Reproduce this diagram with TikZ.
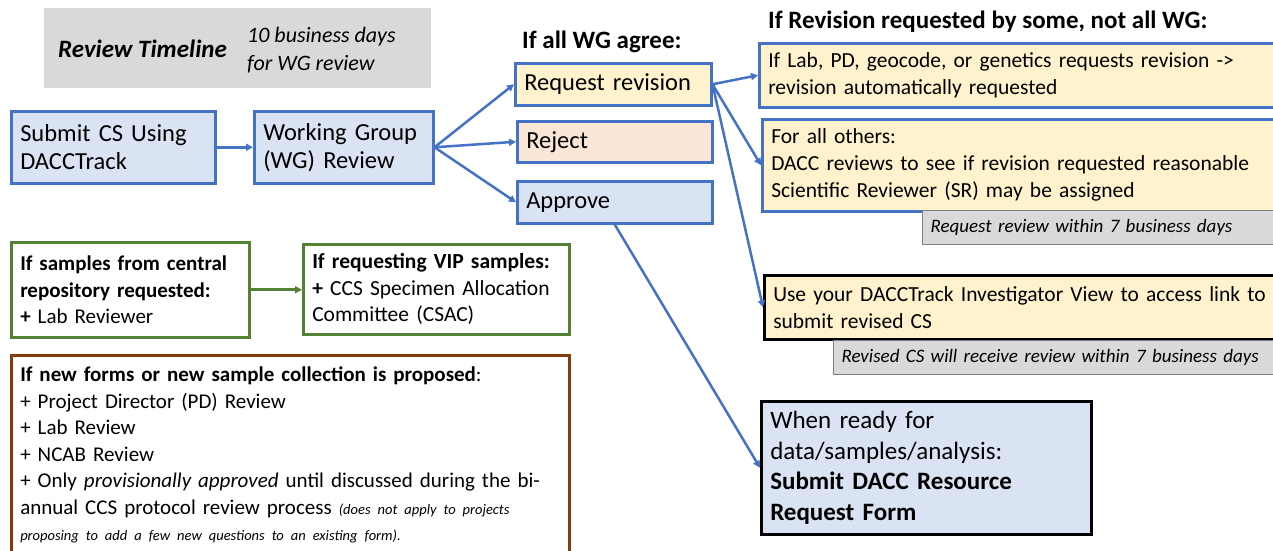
\documentclass[tikz,border=0pt]{standalone}
\usepackage{fontspec}
\setmainfont{Carlito}
\usetikzlibrary{arrows.meta}
\definecolor{bblue}{HTML}{4472C4}
\definecolor{lblue}{HTML}{DAE3F3}
\definecolor{lyellow}{HTML}{FFF2CC}
\definecolor{lpeach}{HTML}{FBE5D6}
\definecolor{tgray}{HTML}{D9D9D9}
\definecolor{dgray}{HTML}{7F7F7F}
\definecolor{ggreen}{HTML}{548235}
\definecolor{bbrown}{HTML}{843C0C}
\tikzset{
  base/.style={anchor=north west, inner xsep=9pt, inner ysep=0pt, align=left, line width=2.5pt},
  bluebox/.style={base, draw=bblue, fill=lblue},
  yelbox/.style={base, draw=bblue, fill=lyellow},
  blackyel/.style={base, draw=black, fill=lyellow},
  blackblue/.style={base, draw=black, fill=lblue},
  peachbox/.style={base, draw=bblue, fill=lpeach},
  notebox/.style={base, draw=dgray, fill=tgray, line width=1pt, inner xsep=8pt},
  greenbox/.style={base, draw=ggreen, fill=white},
  brownbox/.style={base, draw=bbrown, fill=white},
  big/.style={font=\fontsize{24.5}{28}\selectfont},
  mid/.style={font=\fontsize{21.5}{27}\selectfont},
  small/.style={font=\fontsize{21}{26.5}\selectfont},
  note/.style={font=\fontsize{19}{22}\selectfont\itshape},
  barrow/.style={draw=bblue, line width=2.5pt, -{Triangle[length=7pt,width=7pt]}},
  garrow/.style={draw=ggreen, line width=3pt, -{Triangle[length=7pt,width=7pt]}},
  title/.style={anchor=west, inner sep=0pt, font=\fontsize{25}{28}\selectfont\bfseries}
}
\begin{document}
\begin{tikzpicture}[x=1pt,y=-1pt]
\useasboundingbox (0,0) rectangle (1273,550);
\clip (0,0) rectangle (1273,550);
% review timeline
\node[anchor=north west, fill=tgray, minimum width=387pt, minimum height=80pt, inner sep=0pt] (tl) at (44,8) {};
\node[anchor=base west, inner sep=0pt, font=\fontsize{25}{28}\selectfont\bfseries\itshape] (tlt) at (58,57) {Review Timeline};
\node[anchor=base west, inner sep=0pt, font=\fontsize{22}{28}\selectfont\itshape] (tld1) at (247,42) {10 business days};
\node[anchor=base west, inner sep=0pt, font=\fontsize{22}{28}\selectfont\itshape] (tld2) at (247,70) {for WG review};
% main flow
\node[bluebox, big, minimum width=204pt, minimum height=72pt, text width=186pt] (submit) at (10,110) {Submit CS Using\\DACCTrack};
\node[bluebox, big, minimum width=179pt, minimum height=72pt, text width=161pt] (wg) at (253,110) {Working Group\\(WG) Review};
\node[title] (t1) at (522,42) {If all WG agree:};
\node[yelbox, big, minimum width=196pt, minimum height=42pt, text width=178pt] (rr) at (514,62) {Request revision};
\node[peachbox, big, minimum width=195pt, minimum height=41pt, text width=177pt] (rej) at (516,120) {Reject};
\node[bluebox, big, minimum width=195pt, minimum height=42pt, text width=177pt] (app) at (516,180) {Approve};
% right column (boxes run past the right edge, as in the reference)
\node[title] (t2) at (768,22) {If Revision requested by some, not all WG:};
\node[yelbox, mid, minimum width=525pt, minimum height=64pt, text width=507pt] (b1) at (758,42) {If Lab, PD, geocode, or genetics requests revision ->\\revision automatically requested};
\node[yelbox, mid, minimum width=522pt, minimum height=92pt, text width=504pt] (b2) at (761,118) {For all others:\\DACC reviews to see if revision requested reasonable\\Scientific Reviewer (SR) may be assigned};
\node[notebox, note, minimum width=360pt, minimum height=34pt, text width=344pt] (n1) at (922,210) {Request review within 7 business days};
\node[blackyel, mid, minimum width=520pt, minimum height=64pt, text width=502pt] (b3) at (763,274) {Use your DACCTrack Investigator View to access link to\\submit revised CS};
\node[notebox, note, minimum width=450pt, minimum height=34pt, text width=434pt] (n2) at (833,340) {Revised CS will receive review within 7 business days};
\node[blackblue, font=\fontsize{25}{30.5}\selectfont, minimum width=330pt, minimum height=133pt, text width=312pt] (b4) at (760,400) {When ready for\\data/samples/analysis:\\\textbf{Submit DACC Resource}\\\textbf{Request Form}};
% green boxes
\node[greenbox, font=\fontsize{21}{26.5}\selectfont, minimum width=238pt, minimum height=95pt, text width=220pt] (g1) at (10,241) {\textbf{If samples from central}\\\textbf{repository requested:}\\\textbf{+} Lab Reviewer};
\node[greenbox, font=\fontsize{21.5}{26.5}\selectfont, minimum width=266pt, minimum height=90pt, text width=248pt] (g2) at (302,243) {\textbf{If requesting VIP samples:}\\\textbf{+} CCS Specimen Allocation\\Committee (CSAC)};
% brown box
\node[brownbox, small, anchor=north west, minimum width=558pt, minimum height=200pt, text width=540pt, inner ysep=6pt] (br) at (10,354) {%
\textbf{If new forms or new sample collection is proposed}:\\
+ Project Director (PD) Review\\
+ Lab Review\\
+ NCAB Review\\
+ Only \textit{provisionally approved} until discussed during the bi-\\
annual CCS protocol review process {\fontsize{14.5}{16}\selectfont\itshape (does not apply to projects}\\
{\fontsize{14.5}{16}\selectfont\itshape proposing to add a few new questions to an existing form).}};
% connectors
\draw[barrow] (submit.east) -- (wg.west);
\draw[barrow] (wg.east) -- (rr.west);
\draw[barrow] (wg.east) -- (rej.west);
\draw[barrow] (wg.east) -- (app.west);
\draw[barrow] (rr.east) -- (b1.west);
\draw[barrow] (rr.east) -- (b2.west);
\draw[barrow] (rr.east) -- (b3.west);
\draw[barrow] (app.south) -- (b4.west);
\draw[garrow] (g1.east) -- (g1.east -| g2.west);
\end{tikzpicture}
\end{document}
